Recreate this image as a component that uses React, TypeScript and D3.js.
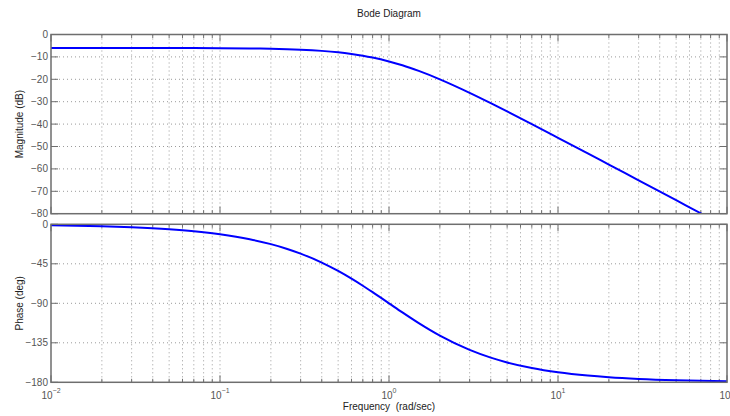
import React from 'react';
import * as d3 from 'd3';

// values
const freq = [0.01, 0.02, 0.03, 0.05, 0.07, 0.1, 0.15, 0.2, 0.25, 0.3, 0.4, 0.5, 0.6, 0.7, 0.8, 1, 1.2, 1.5, 2, 3, 4, 5, 7, 10, 15, 20, 30, 50, 70, 100];
const magDb = [-6.02, -6.02, -6.03, -6.04, -6.06, -6.11, -6.21, -6.36, -6.55, -6.77, -7.31, -7.96, -8.71, -9.48, -10.31, -12.04, -13.74, -16.26, -20.0, -26.02, -30.63, -34.32, -40.0, -46.11, -53.09, -58.08, -65.11, -73.98, -79.83, -86.02];
const phaseDeg = [-1.15, -2.29, -3.44, -5.72, -8.01, -11.42, -17.06, -22.62, -28.07, -33.4, -43.6, -53.13, -61.93, -69.98, -77.32, -90, -100.39, -112.62, -126.87, -143.13, -151.93, -157.38, -163.74, -168.58, -172.37, -174.28, -176.18, -177.71, -178.36, -178.85];

const magTicks = [0, -10, -20, -30, -40, -50, -60, -70, -80];
const phaseTicks = [0, -45, -90, -135, -180];
const decadeExps = [-2, -1, 0, 1, 2];

const W = 730;
const H = 416;
const left = 51;
const right = 727;
const magTop = 34.5;
const magBottom = 213.7;
const phTop = 224.3;
const phBottom = 382.3;

const axisColor = '#6e6e6e';
const tickText = '#555';
const gridColor = '#9a9a9a';
const font = 'Liberation Sans, Arial, Helvetica, sans-serif';

const minus = (v: number) => (v < 0 ? '\u2212' + Math.abs(v) : String(v));

const x = d3.scaleLog().domain([0.01, 100]).range([left, right]);
const yMag = d3.scaleLinear().domain([-80, 0]).range([magBottom, magTop]);
const yPh = d3.scaleLinear().domain([-180, 0]).range([phBottom, phTop]);

// all log ticks (decades + minor 2..9)
const logTicks: number[] = x.ticks();
const majorX = decadeExps.map((e) => Math.pow(10, e));

const Panel = ({ y, ticks, values, id, label }: any) => {
  const [y0, y1] = y.range();
  const line = d3
    .line<number>()
    .x((_, i) => x(freq[i]))
    .y((d) => y(d))
    .curve(d3.curveMonotoneX);
  return (
    <g>
      <defs>
        <clipPath id={id}>
          <rect x={left} y={y1} width={right - left} height={y0 - y1} />
        </clipPath>
      </defs>
      {/* grid */}
      {logTicks.map((t, i) =>
        t > 0.01 && t < 100 ? (
          <line key={'gx' + i} x1={x(t)} x2={x(t)} y1={y1} y2={y0} stroke={gridColor} strokeWidth={1} strokeDasharray="1,3" />
        ) : null
      )}
      {ticks.map((t: number, i: number) =>
        i > 0 && i < ticks.length - 1 ? (
          <line key={'gy' + i} x1={left} x2={right} y1={y(t)} y2={y(t)} stroke={gridColor} strokeWidth={1} strokeDasharray="1,3" />
        ) : null
      )}
      {/* x ticks top and bottom */}
      {logTicks.map((t, i) => {
        const major = majorX.some((m) => Math.abs(m - t) < 1e-9);
        const len = major ? 7 : 3.5;
        return (
          <g key={'tx' + i}>
            <line x1={x(t)} x2={x(t)} y1={y0} y2={y0 - len} stroke={axisColor} strokeWidth={1} />
            <line x1={x(t)} x2={x(t)} y1={y1} y2={y1 + len} stroke={axisColor} strokeWidth={1} />
          </g>
        );
      })}
      {/* y ticks left and right */}
      {ticks.map((t: number, i: number) => (
        <g key={'ty' + i}>
          <line x1={left} x2={left + 7} y1={y(t)} y2={y(t)} stroke={axisColor} strokeWidth={1} />
          <line x1={right} x2={right - 7} y1={y(t)} y2={y(t)} stroke={axisColor} strokeWidth={1} />
          <text x={left - 3} y={y(t)} dy="0.35em" textAnchor="end" fontSize={10} fill={tickText} fontFamily={font}>
            {minus(t)}
          </text>
        </g>
      ))}
      <path d={line(values) || ''} fill="none" stroke="#0000ff" strokeWidth={2} clipPath={`url(#${id})`} />
      <rect x={left} y={y1} width={right - left} height={y0 - y1} fill="none" stroke={axisColor} strokeWidth={1.5} />
      <text
        transform={`translate(23,${(y0 + y1) / 2}) rotate(-90)`}
        textAnchor="middle"
        fontSize={10}
        fill="#222"
        fontFamily={font}
      >
        {label}
      </text>
    </g>
  );
};

const App = () => {
  return (
    <svg width={W} height={H} style={{ position: 'absolute', left: 0, top: 0, background: '#fff' }}>
      <rect width={W} height={H} fill="#fff" />
      <text x={389} y={17} textAnchor="middle" fontSize={10} fill="#222" fontFamily={font}>
        Bode Diagram
      </text>
      <Panel y={yMag} ticks={magTicks} values={magDb} id="clipMag" label="Magnitude (dB)" />
      <Panel y={yPh} ticks={phaseTicks} values={phaseDeg} id="clipPh" label="Phase (deg)" />
      {decadeExps.map((e) => (
        <text key={'xl' + e} x={x(Math.pow(10, e))} y={399} textAnchor="middle" fill={tickText} fontFamily={font}>
          <tspan fontSize={10}>10</tspan>
          <tspan fontSize={7} dy={-6}>
            {minus(e)}
          </tspan>
        </text>
      ))}
      <text x={389} y={410} textAnchor="middle" fontSize={10} fill="#222" fontFamily={font} xmlSpace="preserve">
        Frequency  (rad/sec)
      </text>
    </svg>
  );
};

export default App;
